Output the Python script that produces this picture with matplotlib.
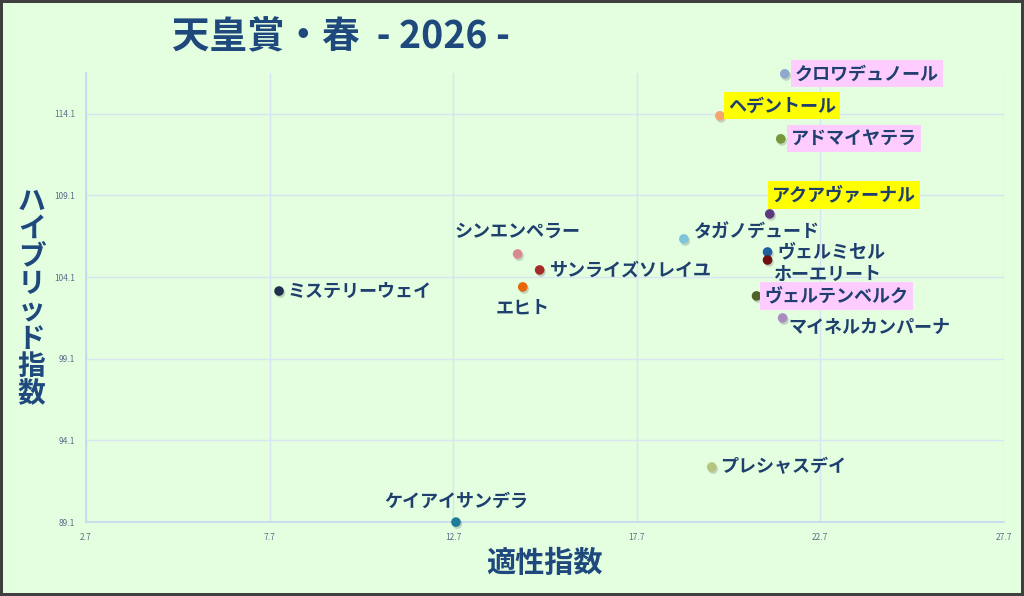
import matplotlib
matplotlib.use("Agg")
import matplotlib.pyplot as plt
import matplotlib.patheffects as pe
import numpy as np

plt.rcParams['font.family'] = ['Noto Sans CJK JP', 'DejaVu Sans']

# data
names = ['クロワデュノール', 'ヘデントール', 'アドマイヤテラ', 'アクアヴァーナル',
         'タガノデュード', 'ヴェルミセル', 'ホーエリート', 'ヴェルテンベルク',
         'マイネルカンパーナ', 'シンエンペラー', 'サンライズソレイユ', 'エヒト',
         'ミステリーウェイ', 'プレシャスデイ', 'ケイアイサンデラ']
tekisei = [21.74, 19.97, 21.63, 21.33, 18.99, 21.27, 21.27, 20.97,
           21.68, 14.46, 15.06, 14.60, 7.96, 19.75, 12.78]
hybrid = [116.55, 113.98, 112.57, 107.97, 106.44, 105.64, 105.15, 102.95,
          101.60, 105.52, 104.54, 103.50, 103.25, 92.47, 89.10]
highlight = ['pink', 'yellow', 'pink', 'yellow', None, None, None, 'pink',
             None, None, None, None, None, None, None]
xticks = [2.7, 7.7, 12.7, 17.7, 22.7, 27.7]
yticks = [89.1, 94.1, 99.1, 104.1, 109.1, 114.1]

# styling
colors = ['#8FA8D0', '#F4A46E', '#76973A', '#5E3A7E', '#7EC4DA', '#1F5FA0',
          '#6E1010', '#4F6228', '#A98DC0', '#D98A90', '#A52A2A', '#E8650A',
          '#1F2F4F', '#B5C47E', '#1F7D9A']
# label offsets in pixels (dx, dy, ha)
place = {
    'クロワデュノール': (10, 0, 'left'),
    'ヘデントール': (8, 10, 'left'),
    'アドマイヤテラ': (10, 0, 'left'),
    'アクアヴァーナル': (2, 19, 'left'),
    'タガノデュード': (10, 7, 'left'),
    'ヴェルミセル': (10, 0, 'left'),
    'ホーエリート': (5, -14, 'left'),
    'ヴェルテンベルク': (8, 0, 'left'),
    'マイネルカンパーナ': (6, -10, 'left'),
    'シンエンペラー': (0, 23, 'center'),
    'サンライズソレイユ': (10, 0, 'left'),
    'エヒト': (0, -21, 'center'),
    'ミステリーウェイ': (8, 0, 'left'),
    'プレシャスデイ': (8, 0, 'left'),
    'ケイアイサンデラ': (0, 21, 'center'),
}
box_colors = {'pink': '#FFCCFF', 'yellow': '#FFFF00'}
bg = '#E3FFE0'
navy = '#1F497D'

fig = plt.figure(figsize=(10.24, 5.96), dpi=100, facecolor=bg,
                 edgecolor='#3F3F3F', linewidth=3)
ax = fig.add_axes([0.084, 0.124, 0.896, 0.7535])
ax.set_facecolor(bg)

sc = ax.scatter(tekisei, hybrid, s=48, c=colors, zorder=3, edgecolors='none',
                clip_on=False)
sc.set_path_effects([pe.SimplePatchShadow(offset=(1, -1.5), shadow_rgbFace='#707070',
                                          alpha=0.3),
                     pe.Normal()])

for n, x, y, h in zip(names, tekisei, hybrid, highlight):
    dx, dy, ha = place[n]
    bbox = None
    if h is not None:
        bbox = dict(facecolor=box_colors[h], edgecolor='none', pad=3)
    ax.annotate(n, (x, y), xytext=(dx, dy), textcoords='offset pixels',
                ha=ha, va='center', fontsize=13, fontweight='bold',
                color='#1F3F6F', bbox=bbox, zorder=4)

ax.set_xlim(2.7, 27.7)
ax.set_ylim(89.1, 116.6)
ax.set_xticks(xticks)
ax.set_yticks(yticks)
ax.set_xticklabels(['%.1f' % t for t in xticks])
ax.set_yticklabels(['%.1f' % t for t in yticks])
ax.tick_params(length=0, labelsize=6, labelcolor='#5A6E8A', pad=8)
ax.grid(True, color='#D8E4F4', linewidth=1)
ax.set_axisbelow(True)
for s in ['top', 'right']:
    ax.spines[s].set_visible(False)
for s in ['left', 'bottom']:
    ax.spines[s].set_color('#C5D5F0')
    ax.spines[s].set_linewidth(1.2)

fig.text(0.333, 0.938, '天皇賞・春  - 2026 -', ha='center', va='center',
         fontsize=27, fontweight='bold', color=navy)
fig.text(0.532, 0.055, '適性指数', ha='center', va='center',
         fontsize=21, fontweight='bold', color=navy)
fig.text(0.031, 0.50, '\n'.join('ハイブリッド指数'), ha='center', va='center',
         fontsize=20, fontweight='bold', color=navy, linespacing=0.98)

fig.savefig('out.png', dpi=100, facecolor=fig.get_facecolor(),
            edgecolor=fig.get_edgecolor())
